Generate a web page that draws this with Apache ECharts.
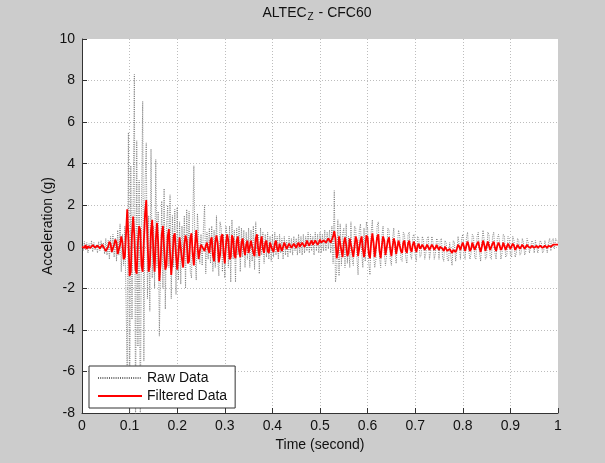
<!DOCTYPE html>
<html>
<head>
<meta charset="utf-8">
<script src="https://cdn.jsdelivr.net/npm/echarts@6/dist/echarts.min.js"></script>
<style>
html,body{margin:0;padding:0;background:#cccccc;}
#chart{width:605px;height:463px;}
</style>
</head>
<body>
<div id="chart"></div>
<script>
// Sampling of both signals (seconds)
const sampleStep = 0.0025;
const seriesNames = ['Raw Data', 'Filtered Data'];
const xTicks = [0, 0.1, 0.2, 0.3, 0.4, 0.5, 0.6, 0.7, 0.8, 0.9, 1];
const yTicks = [-8, -6, -4, -2, 0, 2, 4, 6, 8, 10];

const rawData = [
0.1,-0.2,0.25,-0.15,0.2,-0.3,0.15,-0.1,0.3,-0.25,0.2,-0.15,0.1,-0.3,0.25,-0.2,0.3,-0.1,0.2,-0.35,
0.4,-0.4,0.3,-0.6,0.5,-0.3,0.6,-0.5,0.4,-0.7,0.8,-0.4,1.1,-1.2,0.6,-0.9,1.0,-2.6,-6.2,5.5,
-9.5,3.9,-3.5,2.0,8.3,-9.5,5.1,-4.8,3.2,-9.5,2.0,7.0,-5.5,3.0,5.0,-2.5,1.5,-3.1,4.7,-1.5,
1.0,-2.0,4.2,-1.0,1.7,-4.3,-1.0,2.2,-2.0,2.8,-3.0,1.0,2.0,-1.0,2.5,-2.5,1.5,-1.0,1.8,-2.3,
1.9,-1.6,1.2,-1.8,1.0,-0.8,1.5,-2.0,1.8,-0.5,1.7,-1.2,-1.5,1.0,3.9,-0.5,-1.6,1.6,0.5,-0.8,
0.6,-0.9,0.8,2.0,-1.3,0.7,-0.6,0.9,-0.8,1.0,-1.2,0.8,-1.0,1.5,-0.6,-1.4,1.2,0.9,-1.2,0.6,
-1.5,1.0,0.5,-1.0,1.0,-1.7,1.3,-0.6,0.8,-1.7,0.9,-0.4,1.0,-1.2,0.9,-0.5,0.8,-1.0,0.7,-0.6,
0.9,-1.0,0.8,-0.7,1.0,-1.1,1.2,-0.5,0.6,-1.3,0.9,-0.4,0.7,-0.8,0.6,-0.5,0.7,-0.6,0.5,-0.7,
0.6,-0.5,0.7,-0.4,0.5,-0.6,0.6,-0.3,0.4,-0.6,0.5,-0.4,0.3,-0.5,0.5,-0.3,0.4,-0.4,0.5,-0.2,
0.4,-0.4,0.6,-0.3,0.5,-0.4,0.6,-0.3,0.5,-0.2,0.7,-0.3,0.6,-0.2,0.5,-0.4,0.7,-0.2,0.6,-0.3,
0.7,-0.3,0.6,-0.2,0.8,-0.2,0.7,-0.1,0.8,-0.3,1.0,-0.8,2.7,-1.7,-1.2,1.3,-1.4,1.1,-0.9,0.6,
0.9,-1.0,1.1,-0.8,0.5,-1.0,1.2,-0.6,-0.9,1.0,0.9,-0.5,-1.35,0.8,1.1,-0.3,-1.0,0.9,-0.7,1.2,
0.9,-0.8,-1.35,0.7,1.3,-0.4,-1.0,-0.6,1.0,1.2,-0.5,-1.0,0.5,1.0,-0.3,-0.9,-0.4,0.9,0.8,-0.6,
-0.9,0.4,0.9,-0.2,-0.8,0.1,0.8,0.5,-0.6,-0.7,0.7,0.6,-0.5,-0.8,0.6,0.7,-0.4,-0.6,0.5,0.6,
-0.4,-0.7,0.5,0.4,-0.5,-0.4,0.5,0.3,-0.6,-0.3,0.4,0.5,-0.6,-0.2,0.5,0.2,-0.6,-0.3,0.4,0.3,
-0.6,0.3,0.4,-0.5,-0.7,0.3,0.2,-0.6,-0.7,0.2,-0.5,-0.9,0.3,0.2,-0.7,-0.2,0.5,0.1,-0.6,0.4,
0.6,-0.4,-0.6,0.4,0.7,-0.2,-0.6,-0.3,0.6,0.5,-0.5,-0.6,0.5,0.7,-0.3,-0.7,0.2,0.8,0.3,-0.6,
-0.5,0.7,0.6,-0.5,-0.6,0.5,0.7,-0.3,-0.6,0.4,0.6,0.2,-0.6,-0.3,0.6,0.5,-0.5,-0.4,0.5,0.4,
-0.4,-0.5,0.5,0.3,-0.5,-0.3,0.4,0.3,-0.4,-0.3,0.4,0.2,-0.4,-0.2,0.4,0.2,-0.3,-0.3,0.3,0.2,
-0.3,0.3,0.3,-0.3,-0.3,0.3,0.2,-0.3,-0.2,0.3,0.3,-0.3,0.2,0.4,-0.2,0.3,0.4,-0.1,0.4,0.3,
0.2
];

const filteredData = [
0.0,0.05,-0.05,0.08,-0.1,0.02,0.1,-0.06,-0.1,0.08,0.12,-0.04,-0.12,0.06,0.1,-0.08,-0.05,0.1,0.04,-0.1,
-0.2,-0.25,0.0,0.25,0.15,-0.25,-0.3,0.1,0.35,0.2,-0.35,-0.4,0.1,0.5,0.2,-0.6,-0.5,0.6,1.8,0.4,
-1.4,-1.2,0.6,1.45,0.5,-1.1,-1.3,0.2,1.0,0.8,-0.9,-1.2,0.3,1.6,2.25,0.4,-1.2,-0.9,0.8,1.3,
-0.3,-1.2,0.3,1.15,0.2,-1.65,-0.8,0.6,1.0,-0.1,-1.1,-0.9,0.5,0.85,-0.3,-1.35,-0.6,0.5,0.65,-0.4,
-1.1,-0.4,0.45,0.4,-0.6,-1.0,0.1,0.55,0.3,-0.8,-0.7,0.4,0.65,-0.3,-0.9,0.1,0.8,0.85,-0.6,-0.2,
0.1,0.15,-0.1,-0.2,0.05,0.2,-0.1,-0.3,0.3,0.45,-0.4,-0.7,0.2,0.55,0.2,-0.75,-0.4,0.5,0.6,-0.3,
-0.8,0.1,0.6,0.3,-0.6,-0.5,0.55,0.4,-0.4,-0.55,0.3,0.5,-0.2,-0.5,0.2,0.4,-0.1,-0.4,0.1,0.3,
-0.3,-0.35,0.3,0.35,-0.3,-0.45,0.4,0.6,-0.1,-0.45,0.2,0.5,-0.1,-0.3,0.2,0.3,-0.2,-0.3,0.2,0.25,
-0.15,-0.25,0.15,0.3,-0.1,-0.25,0.15,0.2,-0.2,-0.15,0.2,0.15,-0.1,-0.05,0.15,0.1,-0.05,0.0,0.15,0.05,
-0.05,0.1,0.2,0.0,0.0,0.2,0.15,0.0,0.1,0.3,0.15,0.05,0.2,0.3,0.1,0.1,0.3,0.25,0.1,0.2,
0.35,0.2,0.15,0.3,0.35,0.2,0.25,0.4,0.3,0.2,0.35,0.5,0.75,0.4,-0.55,-0.3,0.5,0.55,-0.2,-0.5,
0.2,0.45,0.1,-0.45,-0.3,0.4,0.45,-0.2,-0.5,0.0,0.5,0.3,-0.45,-0.4,0.3,0.5,-0.1,-0.5,-0.1,0.55,
0.45,-0.35,-0.55,0.2,0.65,0.2,-0.5,-0.45,0.45,0.6,-0.2,-0.55,0.05,0.5,0.3,-0.4,-0.35,0.3,0.45,-0.1,
-0.45,0.0,0.4,0.2,-0.35,-0.3,0.3,0.35,-0.2,-0.3,0.2,0.3,-0.15,-0.3,0.15,0.3,-0.1,-0.25,0.1,0.25,
-0.05,-0.25,0.05,0.15,-0.1,-0.15,0.1,0.1,-0.15,-0.1,0.1,0.05,-0.15,-0.1,0.1,0.0,-0.15,-0.05,0.1,-0.05,
-0.15,0.0,0.05,-0.1,-0.2,0.0,-0.05,-0.2,-0.25,-0.1,-0.2,-0.3,-0.15,-0.1,-0.25,-0.1,0.1,0.0,-0.15,0.05,
0.2,0.0,-0.2,0.05,0.25,0.05,-0.2,-0.1,0.2,0.2,-0.15,-0.2,0.15,0.25,-0.05,-0.25,0.0,0.3,0.1,-0.2,
-0.15,0.25,0.2,-0.15,-0.2,0.15,0.25,-0.05,-0.2,0.05,0.2,0.05,-0.15,-0.05,0.2,0.15,-0.15,-0.1,0.15,0.1,
-0.1,-0.1,0.15,0.05,-0.15,-0.05,0.1,0.05,-0.1,-0.05,0.1,0.0,-0.1,0.0,0.1,0.0,-0.05,-0.05,0.05,0.0,
-0.05,0.0,0.05,-0.05,-0.05,0.05,0.0,-0.05,0.0,0.05,0.05,-0.05,0.05,0.1,0.0,0.05,0.1,0.05,0.1,0.15,
0.1
];

const toPairs = arr => arr.map((v, i) => [+(i * sampleStep).toFixed(4), v]);

const FONT = '"Liberation Sans", Arial, Helvetica, sans-serif';
const chart = echarts.init(document.getElementById('chart'), null, {renderer: 'canvas'});

chart.setOption({
  animation: false,
  backgroundColor: '#cccccc',
  textStyle: {fontFamily: FONT},
  grid: {left: 82, right: 47, top: 39, bottom: 50, show: true, backgroundColor: '#ffffff', borderWidth: 0},
  graphic: [{
    type: 'text',
    x: 317, y: 13,
    style: {
      text: '{n|ALTEC}{s|Z}{n| - CFC60}',
      align: 'center', verticalAlign: 'middle',
      rich: {
        n: {fontSize: 14, fontFamily: FONT, fill: '#111', lineHeight: 16},
        s: {fontSize: 10, fontFamily: FONT, fill: '#111', lineHeight: 10, padding: [9, 1, 0, 1]}
      }
    }
  }],
  legend: {
    data: seriesNames,
    orient: 'vertical',
    left: 89, top: 366,
    backgroundColor: '#ffffff',
    borderColor: '#333333', borderWidth: 1, borderRadius: 0,
    padding: [5, 8, 5, 8],
    itemWidth: 44, itemHeight: 12, itemGap: 4,
    itemStyle: {color: 'rgba(0,0,0,0)', borderWidth: 0, opacity: 0},
    textStyle: {fontSize: 14, color: '#111', fontFamily: FONT}
  },
  xAxis: {
    type: 'value', min: xTicks[0], max: xTicks[xTicks.length - 1], interval: 0.1,
    name: 'Time (second)', nameLocation: 'middle', nameGap: 25,
    nameTextStyle: {fontSize: 14, color: '#111', fontFamily: FONT},
    axisLine: {show: true, onZero: false, lineStyle: {color: '#333', width: 1}},
    axisTick: {show: true, inside: true, length: 5, lineStyle: {color: '#333'}},
    axisLabel: {fontSize: 14, color: '#111', margin: 6, fontFamily: FONT,
      formatter: v => String(+v.toFixed(1))},
    splitLine: {show: true, showMinLine: false, showMaxLine: false,
      lineStyle: {color: '#bdbdbd', type: [1, 2], width: 1}}
  },
  yAxis: {
    type: 'value', min: yTicks[0], max: yTicks[yTicks.length - 1], interval: 2,
    name: 'Acceleration (g)', nameLocation: 'middle', nameGap: 27, nameRotate: 90,
    nameMoveOverlap: false,
    nameTextStyle: {fontSize: 14, color: '#111', fontFamily: FONT},
    axisLine: {show: true, onZero: false, lineStyle: {color: '#333', width: 1}},
    axisTick: {show: true, inside: true, length: 5, lineStyle: {color: '#333'}},
    axisLabel: {fontSize: 14, color: '#111', margin: 7, fontFamily: FONT},
    splitLine: {show: true, showMinLine: false, showMaxLine: false,
      lineStyle: {color: '#bdbdbd', type: [1, 2], width: 1}}
  },
  series: [
    {
      name: seriesNames[0], type: 'line', data: toPairs(rawData),
      symbol: 'none', clip: true,
      lineStyle: {color: '#6a6a6a', width: 0.8, type: [1, 1.2]},
      itemStyle: {color: '#888888'}
    },
    {
      name: seriesNames[1], type: 'line', data: toPairs(filteredData),
      symbol: 'none', clip: true,
      lineStyle: {color: '#ff0000', width: 1.8},
      itemStyle: {color: '#ff0000'}
    }
  ]
});
</script>
</body>
</html>
